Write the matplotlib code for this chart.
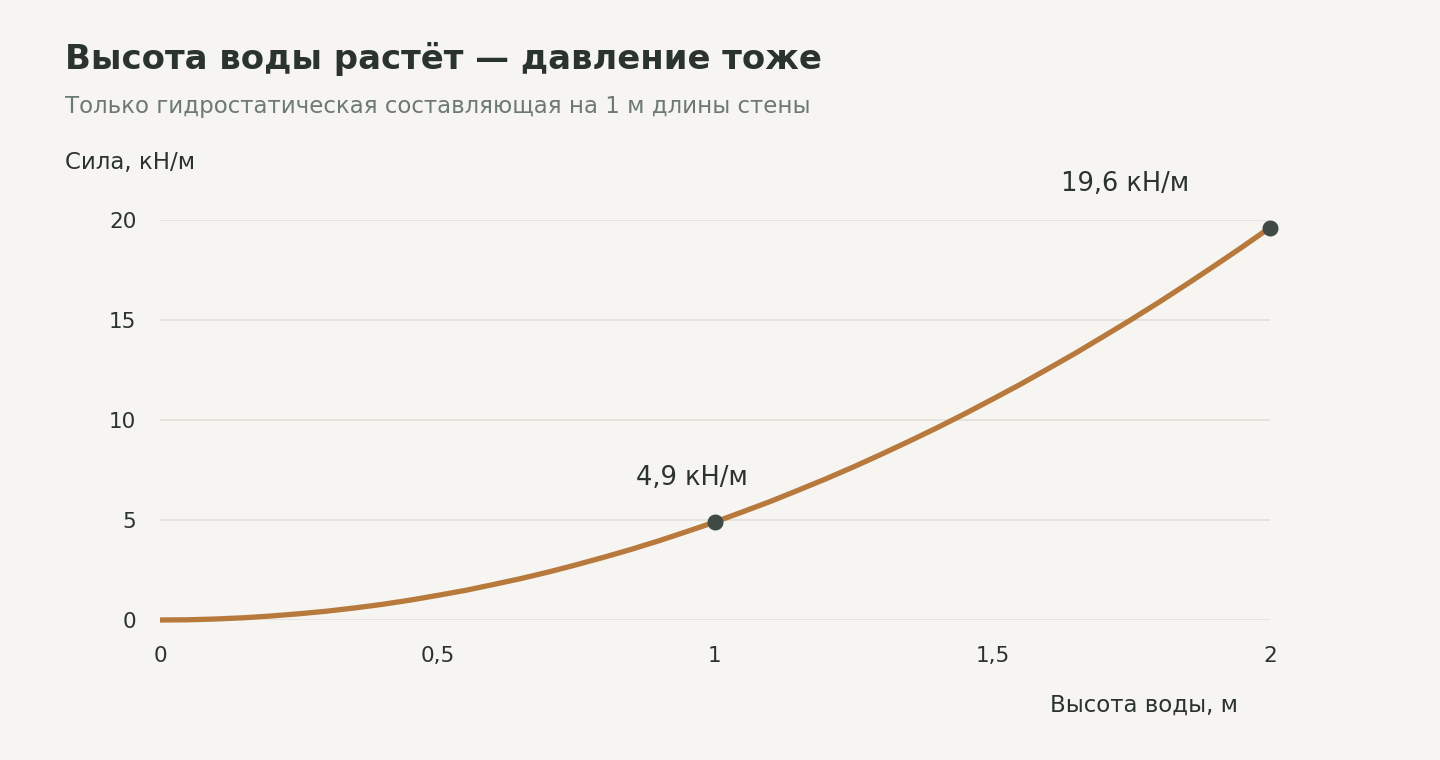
import numpy as np
from matplotlib import pyplot as plt

# water height, m
height = [0.0, 0.05, 0.1, 0.15, 0.2, 0.25, 0.3, 0.35, 0.4, 0.45, 0.5,
          0.55, 0.6, 0.65, 0.7, 0.75, 0.8, 0.85, 0.9, 0.95, 1.0,
          1.05, 1.1, 1.15, 1.2, 1.25, 1.3, 1.35, 1.4, 1.45, 1.5,
          1.55, 1.6, 1.65, 1.7, 1.75, 1.8, 1.85, 1.9, 1.95, 2.0]
# hydrostatic force per metre of wall, kN/m
force = [0.0, 0.01, 0.05, 0.11, 0.2, 0.31, 0.44, 0.6, 0.78, 0.99, 1.23,
         1.48, 1.77, 2.07, 2.4, 2.76, 3.14, 3.54, 3.97, 4.43, 4.9,
         5.41, 5.93, 6.49, 7.06, 7.66, 8.29, 8.94, 9.61, 10.31, 11.04,
         11.78, 12.56, 13.35, 14.18, 15.02, 15.89, 16.79, 17.71, 18.65, 19.62]

mark_h = [1.0, 2.0]
mark_f = [4.9, 19.62]
mark_labels = ['4,9 кН/м', '19,6 кН/м']
mark_offsets = [(-23, 44), (-145, 44)]

xticks = [0, 0.5, 1, 1.5, 2]
xticklabels = ['0', '0,5', '1', '1,5', '2']
yticks = [0, 5, 10, 15, 20]

bg = '#f6f5f1'
dark = '#2b332e'

plt.rcParams['font.family'] = ['DejaVu Sans']
fig = plt.figure(figsize=(14.4, 7.6), dpi=100, facecolor=bg)
ax = fig.add_axes([160/1440, 1 - 620/760, 1110/1440, 400/760], facecolor=bg)

ax.plot(height, force, color='#b8793d', lw=3.8, solid_capstyle='butt', zorder=3, clip_on=False)
ax.plot(mark_h, mark_f, 'o', color='#3e4a43', ms=10.5, zorder=4, clip_on=False)
for h, f, lab, off in zip(mark_h, mark_f, mark_labels, mark_offsets):
    ax.annotate(lab, (h, f), xytext=(off[0] * 0.72, off[1] * 0.72), textcoords='offset points',
                ha='center', va='center', fontsize=18.5, color=dark)

ax.set_xlim(0, 2)
ax.set_ylim(0, 20)
ax.set_xticks(xticks)
ax.set_xticklabels(xticklabels)
ax.set_yticks(yticks)
ax.grid(axis='y', color='#e4e2dc', lw=1.3, zorder=0)
ax.tick_params(length=0, labelsize=15.5, labelcolor=dark)
ax.tick_params(axis='x', pad=19)
ax.tick_params(axis='y', pad=17)
for s in ax.spines.values():
    s.set_visible(False)

fig.text(65/1440, 1 - 59/760, 'Высота воды растёт — давление тоже', fontsize=24.4,
         fontweight='bold', color=dark, va='center')
fig.text(65/1440, 1 - 106/760, 'Только гидростатическая составляющая на 1 м длины стены',
         fontsize=16.5, color='#6d7a71', va='center')
fig.text(65/1440, 1 - 163/760, 'Сила, кН/м', fontsize=16.5, color=dark, va='center')
fig.text(1238/1440, 1 - 705/760, 'Высота воды, м', fontsize=16.5, color=dark,
         va='center', ha='right')

fig.savefig('out.png', dpi=100, facecolor=bg)
